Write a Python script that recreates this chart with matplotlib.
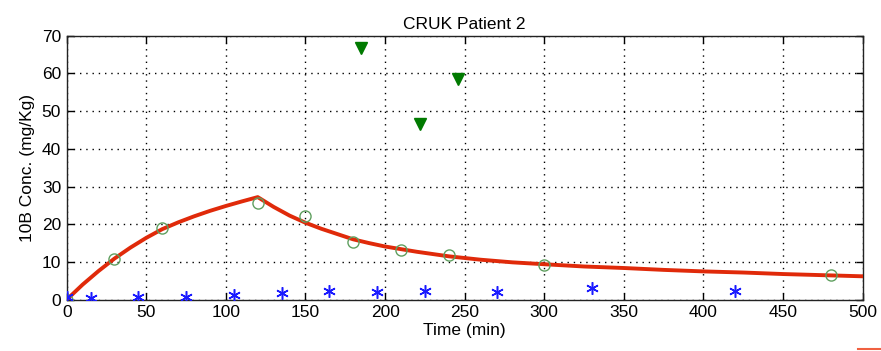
import matplotlib
matplotlib.use("Agg")
import matplotlib.pyplot as plt
from matplotlib.lines import Line2D

plt.rcParams['font.family'] = ['Liberation Sans', 'DejaVu Sans']

# Measured blood concentrations (open circles)
circle_t = [0, 30, 60, 120, 150, 180, 210, 240, 300, 480]
circle_c = [0.0, 10.9, 18.9, 25.7, 22.2, 15.3, 13.3, 11.9, 9.3, 6.5]

# Tumour samples (filled triangles)
tri_t = [185, 222, 246]
tri_c = [66.7, 46.5, 58.5]

# Urine / other samples (asterisks)
star_t = [0, 15, 45, 75, 105, 135, 165, 195, 225, 270, 330, 420]
star_c = [0.8, 0.5, 0.6, 0.6, 1.2, 1.7, 2.2, 2.1, 2.3, 2.1, 3.0, 2.3]

# Model fit curve
fit_t = [0, 10, 20, 30, 40, 50, 60, 70, 80, 90, 100, 110, 120,
         130, 140, 150, 160, 170, 180, 190, 200, 210, 220, 240, 260,
         280, 300, 325, 350, 375, 400, 425, 450, 475, 500]
fit_c = [0.0, 4.0, 7.6, 10.9, 13.8, 16.4, 18.7, 20.5, 22.1, 23.55, 24.85, 26.05, 27.2,
         24.6, 22.3, 20.4, 18.8, 17.4, 16.0, 15.0, 14.1, 13.4, 12.7, 11.5, 10.6,
         9.9, 9.4, 8.8, 8.4, 7.9, 7.5, 7.2, 6.8, 6.5, 6.2]

fig = plt.figure(figsize=(8.81, 3.51), dpi=100)
ax = fig.add_axes([0.0757, 0.1462, 0.9035, 0.7521])

ax.plot(fit_t, fit_c, color='#e02a0a', lw=2.8, zorder=3)
ax.plot(circle_t, circle_c, linestyle='none', marker='o', markersize=8,
        markerfacecolor='none', markeredgecolor='#5f9f5f', markeredgewidth=1.0, zorder=4)
ax.plot(tri_t, tri_c, linestyle='none', marker='v', markersize=9,
        color='#007a00', zorder=4)
ax.plot(star_t, star_c, linestyle='none', marker=(6, 2, 0), markersize=9,
        markeredgecolor='#1a1aff', markeredgewidth=1.1, zorder=4)

ax.set_xlim(0, 500)
ax.set_ylim(0, 70)
ax.set_xticks(range(0, 501, 50))
ax.set_yticks(range(0, 71, 10))
ax.grid(True, color='black', linestyle=(0, (1, 3.5)), linewidth=1.0)
ax.tick_params(direction='in', top=True, right=True, length=5, width=1,
               labelsize=12.5, pad=4)
for s in ax.spines.values():
    s.set_linewidth(1.0)
    s.set_color('#222222')

ax.set_title('CRUK Patient 2', fontsize=12.5, pad=5)
ax.set_xlabel('Time (min)', fontsize=12.5, labelpad=2)
ax.set_ylabel('10B Conc. (mg/Kg)', fontsize=12.5, labelpad=5)

# small red line fragment at bottom-right corner
fig.add_artist(Line2D([858 / 881, 881 / 881], [1 - 349 / 351, 1 - 349 / 351],
                      transform=fig.transFigure, color='#f06040', lw=1.5))

fig.savefig('out.png', dpi=100)
